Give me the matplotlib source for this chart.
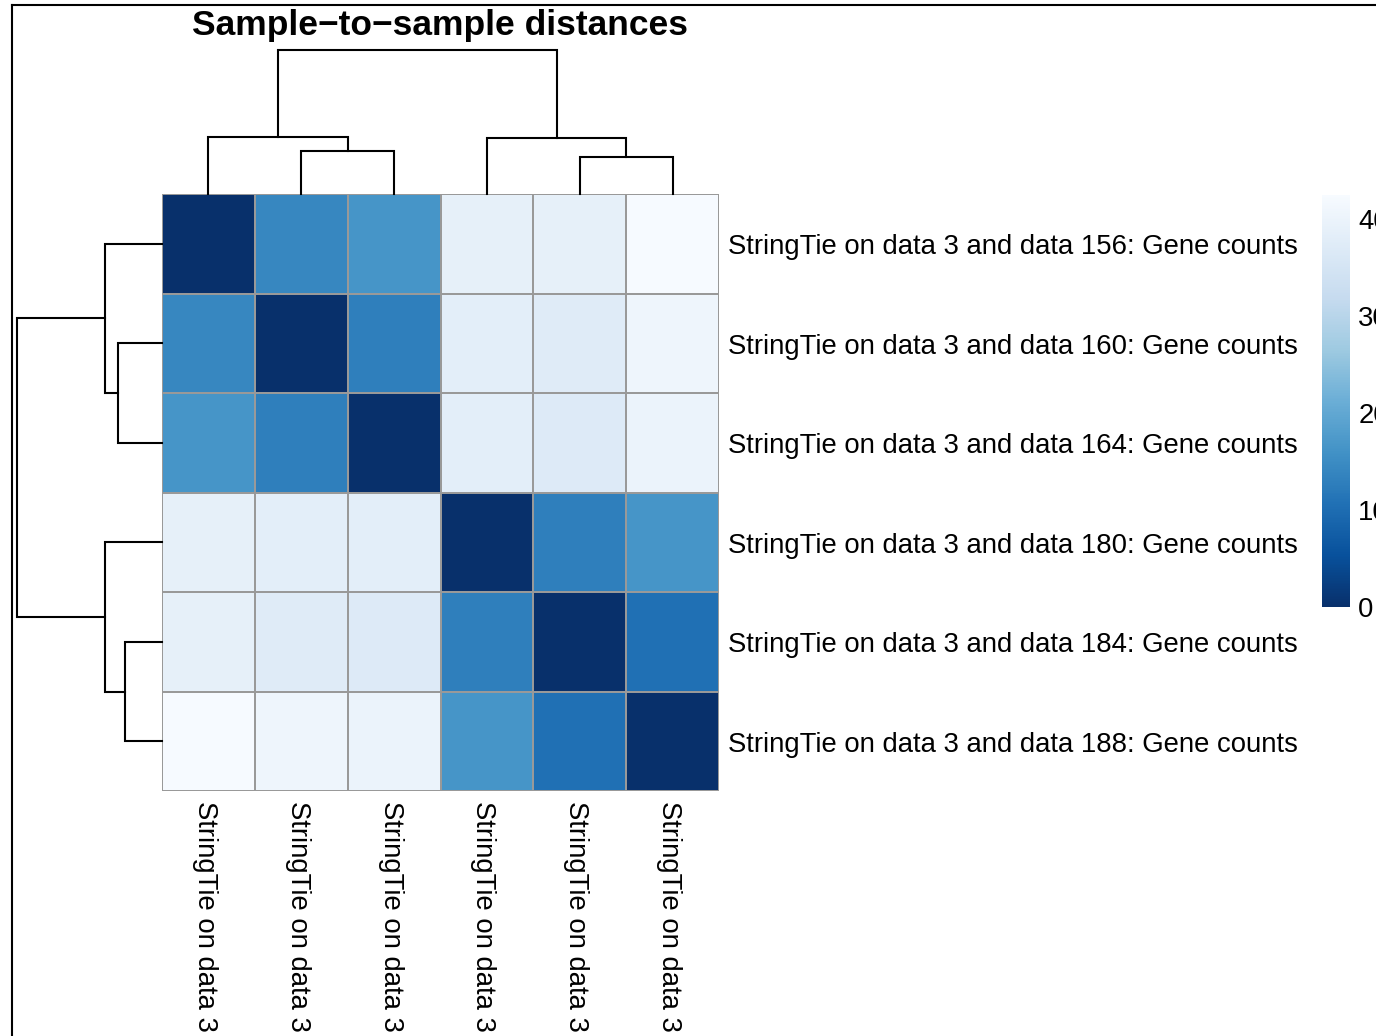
import numpy as np
import matplotlib
matplotlib.use("Agg")
import matplotlib.pyplot as plt
from matplotlib.lines import Line2D

plt.rcParams["font.family"] = ["Liberation Sans", "DejaVu Sans"]

W, H = 1376, 1036

# ---- data ----
samples = ["156", "160", "164", "180", "184", "188"]
row_labels = [f"StringTie on data 3 and data {s}: Gene counts" for s in samples]
col_labels = ["StringTie on data 3"] * len(samples)

dist = np.array([
    [0.0, 14.2, 16.6, 38.7, 38.7, 42.3],
    [14.2, 0.0, 12.8, 38.2, 37.2, 40.4],
    [16.6, 12.8, 0.0, 38.3, 36.9, 39.9],
    [38.7, 38.2, 38.3, 0.0, 12.8, 16.6],
    [38.7, 37.2, 36.9, 12.8, 0.0, 10.6],
    [42.3, 40.4, 39.9, 16.6, 10.6, 0.0],
])
vmax = 42.5
cbar_ticks = [0, 10, 20, 30, 40]

# hierarchical merges: (child_a, child_b, height); ids >= 6 are earlier merges
merges = [(1, 2, 43.5), (0, 6, 57.0), (4, 5, 37.0), (3, 8, 56.5), (7, 9, 144.5)]


def px_axes(fig, x0, y0, x1, y1):
    return fig.add_axes([x0 / W, 1 - y1 / H, (x1 - x0) / W, (y1 - y0) / H])


def draw_dendrogram(ax, merges, n, orient="top"):
    pos = {i: i + 0.5 for i in range(n)}
    hgt = {i: 0.0 for i in range(n)}
    for k, (a, b, h) in enumerate(merges):
        xs = [pos[a], pos[a], pos[b], pos[b]]
        ys = [hgt[a], h, h, hgt[b]]
        if orient == "top":
            ax.plot(xs, ys, color="black", lw=1.5, solid_joinstyle="miter", clip_on=False)
        else:
            ax.plot(ys, xs, color="black", lw=1.5, solid_joinstyle="miter", clip_on=False)
        pos[n + k] = (pos[a] + pos[b]) / 2
        hgt[n + k] = h
    ax.axis("off")


fig = plt.figure(figsize=(W / 100, H / 100), dpi=100)

# heatmap
hx0, hy0, hx1, hy1 = 162, 194, 719, 791
cw = (hx1 - hx0) / 6
ch = (hy1 - hy0) / 6
ax = px_axes(fig, hx0, hy0, hx1, hy1)
mesh = ax.pcolormesh(dist, cmap="Blues_r", vmin=0, vmax=vmax,
                     edgecolors="#999999", linewidth=1.1)
ax.set_xlim(0, 6)
ax.set_ylim(6, 0)
for s in ax.spines.values():
    s.set_visible(False)
ax.set_xticks([])
ax.set_yticks([])

# labels: baseline offset so the capitals sit centred on each cell
for i, lab in enumerate(row_labels):
    ax.text(6 + 9 / cw, i + 0.5 + 10.5 / ch, lab, ha="left", va="baseline",
            fontsize=19.8, clip_on=False)
for j, lab in enumerate(col_labels):
    ax.text(j + 0.5 - 10.5 / cw, 6 + 10 / ch, lab, ha="left", va="baseline",
            rotation=-90, rotation_mode="anchor", fontsize=19.8, clip_on=False)

# dendrograms
top = px_axes(fig, hx0, 50, hx1, hy0)
top.set_xlim(0, 6)
top.set_ylim(0, 144.5)
draw_dendrogram(top, merges, 6, "top")

left = px_axes(fig, 17, hy0, hx0, hy1)
left.set_ylim(6, 0)
left.set_xlim(144.5, 0)
draw_dendrogram(left, merges, 6, "left")

# title
fig.text((hx0 + hx1) / 2 / W, 1 - 35 / H, "Sample\u2212to\u2212sample distances",
         ha="center", va="baseline", fontsize=25.5, fontweight="bold")

# colorbar
cax = px_axes(fig, 1322, 195, 1350, 607)
cb = fig.colorbar(mesh, cax=cax, ticks=cbar_ticks)
cb.outline.set_visible(False)
cb.ax.tick_params(length=0, pad=6, labelsize=19.8)

# screenshot frame
fig.add_artist(Line2D([12 / W, 12 / W], [0, 1 - 5 / H], color="black", lw=1.5,
                      transform=fig.transFigure))
fig.add_artist(Line2D([12 / W, 1], [1 - 5 / H, 1 - 5 / H], color="black", lw=1.5,
                      transform=fig.transFigure))

fig.savefig("out.png", dpi=100)
